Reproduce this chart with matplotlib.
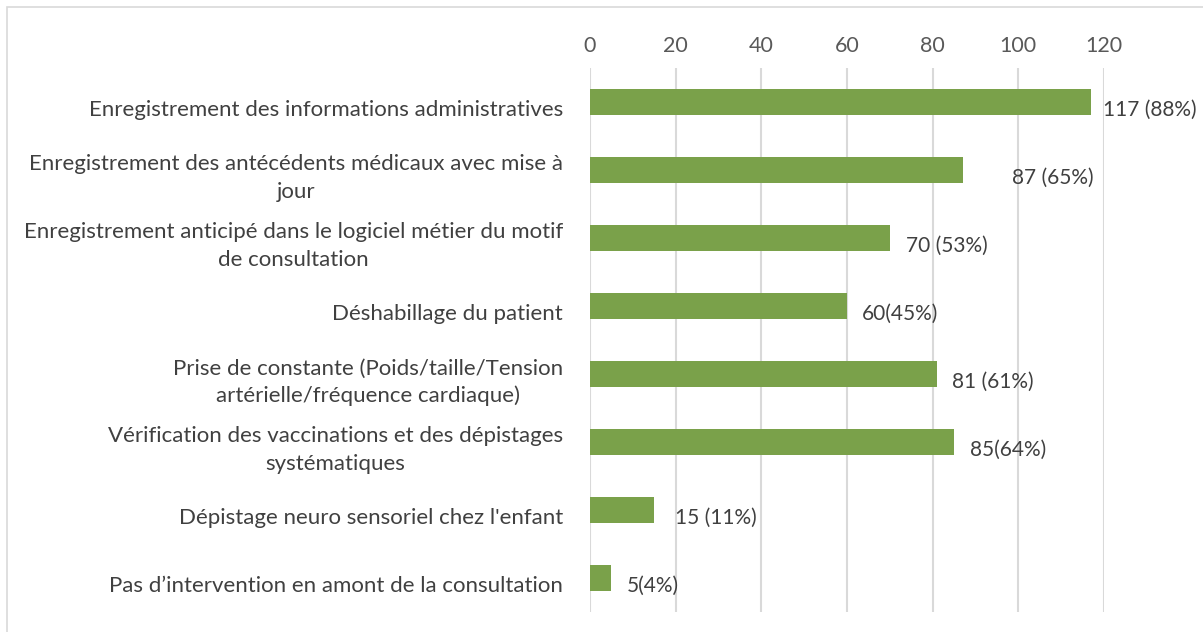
import matplotlib
matplotlib.use("Agg")
import matplotlib.pyplot as plt
import matplotlib.transforms as mtransforms
from matplotlib.patches import Rectangle

categories = [
    "Enregistrement des informations administratives",
    "Enregistrement des antécédents médicaux avec mise à\njour",
    "Enregistrement anticipé dans le logiciel métier du motif\nde consultation",
    "Déshabillage du patient",
    "Prise de constante (Poids/taille/Tension\nartérielle/fréquence cardiaque)",
    "Vérification des vaccinations et des dépistages\nsystématiques",
    "Dépistage neuro sensoriel chez l'enfant",
    "Pas d’intervention en amont de la consultation",
]
values = [117, 87, 70, 60, 81, 85, 15, 5]
value_labels = ["117 (88%)", "87 (65%)", "70 (53%)", "60(45%)", "81 (61%)",
                "85(64%)", "15 (11%)", "5(4%)"]
xticks = [0, 20, 40, 60, 80, 100, 120]
label_offsets_px = [12, 49, 16, 15, 15, 16, 21, 15]

plt.rcParams['font.family'] = ['Lato', 'DejaVu Sans']

W, H = 1203, 632
fig = plt.figure(figsize=(W / 100, H / 100), dpi=100)
fig.patch.set_facecolor("white")

# outer chart border (only left/top visible)
fig.patches.append(Rectangle((7 / W, -0.1), 1.2, 1 - 7 / H + 0.1,
                             transform=fig.transFigure, fill=False,
                             edgecolor="#d9d9d9", linewidth=1.2))

ax = fig.add_axes([590 / W, 1 - 612 / H, (1104 - 590) / W, (612 - 68) / H])
y = list(range(len(categories)))
ax.barh(y, values, height=0.37, color="#7aa14a", zorder=3)
ax.set_xlim(0, 120)
ax.set_ylim(len(categories) - 0.5, -0.5)
ax.set_xticks(xticks)
ax.xaxis.tick_top()
ax.tick_params(axis="x", length=0, pad=9, labelsize=15.5, labelcolor="#595959")
ax.set_yticks(y)
ax.set_yticklabels([])
ax.tick_params(axis="y", length=0)
ax.grid(axis="x", color="#d9d9d9", linewidth=1.5, zorder=0)
for s in ax.spines.values():
    s.set_visible(False)

# category labels: each line drawn separately, centred within the right-aligned block
renderer = fig.canvas.get_renderer()
line_h_px = 27
for i, c in enumerate(categories):
    lines = c.split("\n")
    probe = [fig.text(0, 0, ln, fontsize=16, fontfamily="Lato") for ln in lines]
    widths = [p.get_window_extent(renderer).width for p in probe]
    for p in probe:
        p.remove()
    block_w = max(widths)
    n = len(lines)
    for k, ln in enumerate(lines):
        dy = -8 - (k - (n - 1) / 2) * line_h_px
        tr = mtransforms.blended_transform_factory(ax.transAxes, ax.transData) + \
            mtransforms.ScaledTranslation((-27 - block_w / 2) / 100, dy / 100,
                                          fig.dpi_scale_trans)
        ax.text(0, i, ln, transform=tr, ha="center", va="center",
                fontsize=16, fontfamily="Lato", color="#404040")

for i, (v, lab, off) in enumerate(zip(values, value_labels, label_offsets_px)):
    ax.annotate(lab, xy=(v, i), xytext=(off * 0.72, -8 * 0.72),
                textcoords="offset points", ha="left", va="center",
                fontsize=15, color="#404040", zorder=4)

fig.savefig("out.png", dpi=100, facecolor="white")
